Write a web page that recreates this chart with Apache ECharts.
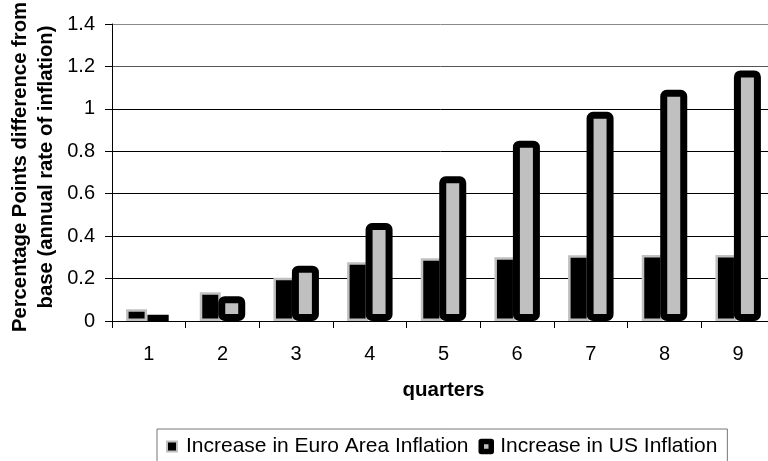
<!DOCTYPE html>
<html>
<head>
<meta charset="utf-8">
<script src="https://cdn.jsdelivr.net/npm/echarts@6/dist/echarts.min.js"></script>
<style>
  html, body { margin: 0; padding: 0; background: #fff; }
  #chart { width: 768px; height: 461px; }
</style>
</head>
<body>
<div id="chart"></div>
<script>
// Quarters after the shock
const quarters = ['1', '2', '3', '4', '5', '6', '7', '8', '9'];
// Percentage-point increase in annual inflation versus base
const euroInflation = [0.055, 0.135, 0.204, 0.277, 0.296, 0.30, 0.31, 0.311, 0.311];
const usInflation = [0.027, 0.117, 0.261, 0.462, 0.682, 0.85, 0.986, 1.09, 1.181];
const yTicks = { min: 0, max: 1.4, interval: 0.2 };

const euroName = 'Increase in Euro Area Inflation';
const usName = 'Increase in US Inflation';
const font = '"Liberation Sans", Arial, sans-serif';

const chart = echarts.init(document.getElementById('chart'), null, { renderer: 'canvas' });

chart.setOption({
  animation: false,
  backgroundColor: '#ffffff',
  textStyle: { fontFamily: font, color: '#000' },
  grid: {
    left: 112, top: 24, right: -7, bottom: 140,
    containLabel: false,
    outerBoundsMode: 'none'
  },
  xAxis: {
    type: 'category',
    data: quarters,
    name: 'quarters',
    nameLocation: 'middle',
    nameGap: 59,
    nameTextStyle: { fontFamily: font, fontWeight: 'bold', fontSize: 20.5, color: '#000' },
    axisLine: { show: true, lineStyle: { color: '#000', width: 1 } },
    axisTick: { show: true, inside: false, alignWithLabel: false, length: 7, lineStyle: { color: '#000', width: 1 } },
    axisLabel: { margin: 23, fontFamily: font, fontSize: 20, color: '#000' },
    splitLine: { show: false }
  },
  yAxis: {
    type: 'value',
    min: yTicks.min,
    max: yTicks.max,
    interval: yTicks.interval,
    axisLine: { show: true, lineStyle: { color: '#000', width: 1 } },
    axisTick: { show: true, inside: false, length: 7, lineStyle: { color: '#000', width: 1 } },
    axisLabel: { margin: 17, fontFamily: font, fontSize: 20, color: '#000' },
    splitLine: {
      show: true,
      lineStyle: { color: ['#000', '#000', '#000', '#000', '#000', '#000', '#555', '#888'], width: 1 }
    }
  },
  graphic: [{
    type: 'text',
    x: 33,
    y: 167,
    rotation: Math.PI / 2,
    style: {
      text: 'Percentage Points difference from\nbase (annual rate of inflation)',
      fontFamily: font,
      fontWeight: 'bold',
      fontSize: 20.3,
      lineHeight: 26,
      fill: '#000',
      align: 'center',
      verticalAlign: 'middle'
    }
  }],
  legend: {
    left: 157,
    top: 429,
    orient: 'horizontal',
    padding: [7, 10, 12, 9],
    itemGap: 10,
    itemWidth: 10,
    itemHeight: 10,
    icon: 'rect',
    borderColor: '#777',
    borderWidth: 1,
    backgroundColor: '#fff',
    textStyle: { fontFamily: font, fontSize: 21, color: '#000', padding: [0, 0, 0, 4] },
    data: [
      { name: euroName, itemStyle: { color: '#000', borderColor: '#c0c0c0', borderWidth: 2 } },
      { name: usName, itemStyle: { color: '#c0c0c0', borderColor: '#000', borderWidth: 5.5, borderJoin: 'round' } }
    ]
  },
  series: [
    {
      name: euroName,
      type: 'bar',
      data: euroInflation,
      barWidth: 21,
      barGap: '-12%',
      itemStyle: { color: '#000', borderColor: '#c0c0c0', borderWidth: 2.5 }
    },
    {
      name: usName,
      type: 'bar',
      data: usInflation,
      barWidth: 27,
      barGap: '-12%',
      itemStyle: { color: '#c0c0c0', borderColor: '#000', borderWidth: 7, borderRadius: 3 }
    }
  ]
});
</script>
</body>
</html>
